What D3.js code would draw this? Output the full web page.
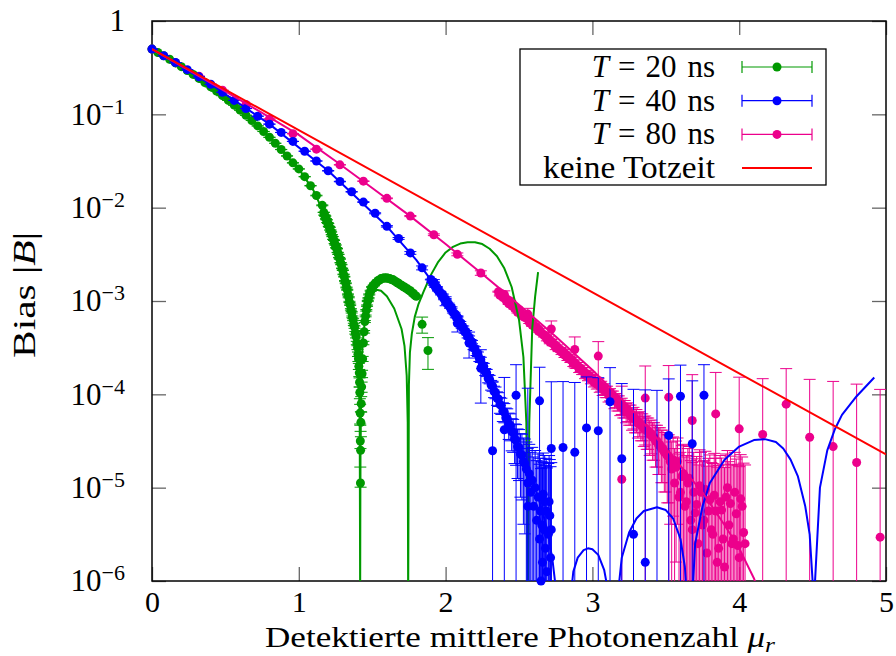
<!DOCTYPE html>
<html><head><meta charset="utf-8">
<script src="https://cdn.jsdelivr.net/npm/d3@7"></script>
<style>
body{margin:0;background:#fff}
svg{display:block}
text{font-family:"Liberation Serif","Times New Roman",serif;fill:#000}
</style></head>
<body><svg id="c" width="896" height="656"></svg>
<script>
// ---------- axis ticks ----------
const xTicks = [0,1,2,3,4,5];
const yTicks = [1e-6,1e-5,1e-4,1e-3,1e-2,1e-1,1];
const yTickExp = ["−6","−5","−4","−3","−2","−1",""];

// ---------- T = 20 ns (values are log10 |B|) ----------
const g20_mu  = [0,0.04,0.08,0.12,0.16,0.2,0.24,0.28,0.32,0.36,0.4,0.44,0.48,0.52,0.56,0.6,0.64,0.68,0.72,0.76,0.8,0.84,0.88,0.92,0.96,1.0,1.04,1.08,1.12,1.16,1.84,1.88];
const g20_log = [-0.301,-0.337,-0.373,-0.41,-0.449,-0.489,-0.53,-0.572,-0.615,-0.659,-0.705,-0.752,-0.8,-0.851,-0.902,-0.955,-1.01,-1.066,-1.124,-1.184,-1.246,-1.31,-1.377,-1.446,-1.52,-1.585,-1.668,-1.765,-1.87,-1.975,-3.25,-3.53];
const g20d_mu  = [1.17,1.175,1.18,1.185,1.19,1.195,1.2,1.205,1.21,1.215,1.22,1.225,1.23,1.235,1.24,1.245,1.25,1.255,1.26,1.265,1.27,1.275,1.28,1.285,1.29,1.295,1.3,1.305,1.31,1.315,1.32,1.325,1.33,1.335,1.34,1.345,1.35,1.355,1.36,1.365,1.37,1.375,1.38,1.385,1.39,1.395,1.4,1.403,1.406,1.409,1.412,1.414,1.416,1.418,1.419,1.42,1.421,1.423,1.425,1.428,1.431,1.435,1.44,1.445,1.45,1.455,1.46,1.465,1.47,1.475,1.48,1.49,1.5,1.51,1.52,1.53,1.54,1.55,1.56,1.57,1.58,1.59,1.6,1.61,1.62,1.63,1.64,1.65,1.66,1.67,1.68,1.69,1.7,1.71,1.72,1.73,1.74,1.75,1.76,1.77,1.78,1.79,1.8];
const g20d_log = [-2.05,-2.08,-2.09,-2.12,-2.13,-2.16,-2.17,-2.2,-2.21,-2.24,-2.26,-2.29,-2.31,-2.34,-2.35,-2.385,-2.4,-2.43,-2.44,-2.48,-2.5,-2.535,-2.55,-2.59,-2.61,-2.65,-2.67,-2.715,-2.74,-2.785,-2.81,-2.855,-2.88,-2.93,-2.96,-3.01,-3.04,-3.09,-3.12,-3.17,-3.2,-3.25,-3.28,-3.34,-3.38,-3.45,-3.5,-3.57,-3.62,-3.7,-3.77,-3.87,-3.98,-4.2,-4.5,-4.95,-4.6,-4.3,-4.1,-3.92,-3.78,-3.62,-3.45,-3.33,-3.22,-3.16,-3.1,-3.05,-3.0,-2.97,-2.93,-2.89,-2.85,-2.835,-2.81,-2.8,-2.78,-2.775,-2.76,-2.76,-2.75,-2.755,-2.75,-2.76,-2.76,-2.77,-2.77,-2.785,-2.79,-2.805,-2.81,-2.825,-2.83,-2.845,-2.85,-2.865,-2.87,-2.885,-2.89,-2.91,-2.92,-2.94,-2.95];
const g20f_mu  = [0,0.2,0.4,0.6,0.8,1.0,1.1,1.2,1.25,1.3,1.35,1.38,1.4,1.41,1.415,1.418,1.42,1.425,1.43,1.44,1.46,1.48,1.5,1.53,1.56,1.6,1.65,1.7,1.72,1.735,1.742,1.745,1.75,1.757,1.77,1.79,1.814,1.85,1.9,1.95,2.0,2.05,2.1,2.15,2.2,2.25,2.3,2.35,2.4,2.45,2.5,2.53,2.55,2.56,2.57,2.59,2.61,2.63];
const g20f_log = [-0.301,-0.489,-0.705,-0.955,-1.246,-1.585,-1.815,-2.16,-2.39,-2.66,-3.02,-3.3,-3.6,-3.9,-4.3,-6.2,-4.5,-3.9,-3.6,-3.35,-3.1,-2.98,-2.92,-2.88,-2.89,-2.95,-3.08,-3.3,-3.48,-3.8,-4.3,-6.2,-3.9,-3.55,-3.35,-3.17,-3.04,-2.9,-2.72,-2.58,-2.48,-2.42,-2.385,-2.37,-2.37,-2.39,-2.44,-2.52,-2.65,-2.85,-3.2,-3.6,-4.3,-6.2,-4.3,-3.3,-2.95,-2.69];

// ---------- T = 40 ns ----------
const b40_mu  = [0,0.08,0.16,0.24,0.32,0.4,0.48,0.56,0.64,0.72,0.8,0.88,0.96,1.04,1.12,1.2,1.28,1.36,1.44,1.52,1.6,1.68,1.76,1.84,1.92,2.0,2.08,2.16,2.24,2.32,2.4,2.48,2.56,2.64,2.72,2.8,2.88,2.96,3.04,3.12,3.2,3.28,3.36,3.44,3.52,3.6,3.68,3.76];
const b40_log = [-0.301,-0.372,-0.445,-0.521,-0.598,-0.678,-0.763,-0.851,-0.938,-1.02,-1.105,-1.194,-1.29,-1.395,-1.5,-1.605,-1.72,-1.83,-1.94,-2.06,-2.2,-2.33,-2.485,-2.645,-2.8,-3.0,-3.24,-3.45,-3.72,-4.605,-4.38,-4.01,-5.2,-4.07,-4.58,-4.57,-4.62,-4.36,-4.39,-4.08,-4.69,-5.5,-5.8,-6.5,-4.44,-4.02,-4.53,-4.01];
const b40d_mu  = [1.9,1.91,1.92,1.93,1.94,1.95,1.96,1.97,1.98,1.99,2.0,2.01,2.02,2.03,2.04,2.05,2.06,2.07,2.08,2.09,2.1,2.11,2.12,2.13,2.14,2.15,2.16,2.17,2.18,2.19,2.2,2.21,2.22,2.23,2.24,2.25,2.26,2.27,2.28,2.29,2.3,2.31,2.32,2.33,2.34,2.35,2.36,2.37,2.38,2.39,2.4,2.41,2.42,2.43,2.44,2.45,2.46,2.47,2.48,2.49,2.5,2.51,2.52,2.53,2.54,2.55,2.56,2.57,2.58,2.59,2.6,2.61,2.62,2.63,2.64,2.645,2.65,2.655,2.66,2.665,2.67,2.675,2.68,2.685,2.69,2.7,2.705,2.71,2.715,2.72];
const b40d_log = [-2.77,-2.8,-2.8,-2.85,-2.85,-2.89,-2.9,-2.93,-2.93,-2.98,-2.98,-3.03,-3.03,-3.07,-3.07,-3.12,-3.13,-3.17,-3.17,-3.22,-3.23,-3.28,-3.28,-3.33,-3.33,-3.38,-3.39,-3.43,-3.44,-3.5,-3.51,-3.56,-3.57,-3.62,-3.63,-3.69,-3.7,-3.76,-3.77,-3.83,-3.84,-3.9,-3.91,-3.97,-3.98,-4.04,-4.05,-4.11,-4.12,-4.18,-4.19,-4.25,-4.26,-4.32,-4.33,-4.4,-4.41,-4.48,-4.49,-4.56,-4.57,-4.64,-4.65,-4.72,-4.74,-4.8,-4.95,-4.85,-5.05,-4.92,-5.2,-5.0,-5.35,-5.1,-5.55,-5.25,-6.0,-5.4,-5.8,-5.07,-5.45,-5.15,-5.65,-5.25,-5.9,-5.5,-5.15,-5.3,-5.75,-5.45];
const b40f_mu  = [0,0.4,0.8,1.2,1.6,1.8,2.0,2.2,2.4,2.5,2.6,2.65,2.7,2.73,2.76,2.85,2.87,2.9,2.94,2.97,3.0,3.04,3.08,3.1,3.17,3.2,3.25,3.3,3.35,3.44,3.5,3.55,3.6,3.63,3.645,3.68,3.7,3.75,3.8,3.9,4.0,4.1,4.175,4.25,4.3,4.35,4.4,4.45,4.48,4.5,4.51,4.52,4.55,4.6,4.65,4.7,4.8,4.92];
const b40f_log = [-0.301,-0.678,-1.105,-1.605,-2.2,-2.56,-2.99,-3.51,-4.2,-4.55,-4.95,-5.2,-5.5,-5.8,-6.2,-6.2,-5.9,-5.75,-5.67,-5.65,-5.66,-5.72,-5.88,-6.05,-6.2,-5.75,-5.48,-5.33,-5.25,-5.21,-5.24,-5.33,-5.55,-5.85,-6.2,-6.2,-5.6,-5.2,-4.95,-4.7,-4.56,-4.49,-4.48,-4.51,-4.58,-4.7,-4.88,-5.2,-5.5,-6.0,-6.2,-5.9,-5.0,-4.6,-4.38,-4.22,-4.02,-3.82];

// ---------- T = 80 ns ----------
const p80_mu  = [0,0.16,0.32,0.48,0.64,0.8,0.96,1.12,1.28,1.44,1.6,1.76,1.92,2.08,2.24,2.4,2.56,2.72,2.88,3.04,3.2,3.36,3.52,3.68,3.84,4.0,4.16,4.32,4.48,4.64,4.8,4.96];
const p80_log = [-0.301,-0.446,-0.592,-0.742,-0.895,-1.05,-1.208,-1.373,-1.541,-1.716,-1.9,-2.09,-2.29,-2.5,-2.7,-2.93,-3.14,-3.3,-3.52,-3.59,-4.91,-4.04,-4.03,-4.28,-4.21,-4.37,-4.43,-4.105,-4.46,-4.56,-4.73,-5.53];
const p80d_mu  = [2.36,2.37,2.38,2.39,2.4,2.41,2.42,2.43,2.44,2.45,2.46,2.47,2.48,2.49,2.5,2.51,2.52,2.53,2.54,2.55,2.56,2.57,2.58,2.59,2.6,2.61,2.62,2.63,2.64,2.65,2.66,2.67,2.68,2.69,2.7,2.71,2.72,2.73,2.74,2.75,2.76,2.77,2.78,2.79,2.8,2.81,2.82,2.83,2.84,2.85,2.86,2.87,2.88,2.89,2.9,2.91,2.92,2.93,2.94,2.95,2.96,2.97,2.98,2.99,3.0,3.01,3.02,3.03,3.04,3.05,3.06,3.07,3.08,3.09,3.1,3.11,3.12,3.13,3.14,3.15,3.16,3.17,3.18,3.19,3.2,3.21,3.22,3.23,3.24,3.25,3.26,3.27,3.28,3.29,3.3,3.31,3.32,3.33,3.34,3.35,3.36,3.37,3.38,3.39,3.4,3.41,3.42,3.43,3.44,3.45,3.46,3.47,3.48,3.49,3.5,3.51,3.52,3.53,3.54,3.55,3.56,3.57,3.58,3.59,3.6,3.61,3.62,3.63,3.64,3.65,3.66,3.67,3.68,3.69,3.7,3.71,3.72,3.73,3.74,3.75,3.76,3.77,3.78,3.79,3.8,3.81,3.82,3.83,3.84,3.85,3.86,3.87,3.88,3.89,3.9,3.91,3.92,3.93,3.94,3.95,3.96,3.97,3.98,3.99,4.0,4.01,4.02,4.03,4.04];
const p80d_log = [-2.9,-2.94,-2.92,-2.96,-2.96,-2.99,-2.99,-3.03,-3.0,-3.05,-3.05,-3.08,-3.08,-3.12,-3.09,-3.14,-3.14,-3.17,-3.17,-3.18,-3.19,-3.23,-3.22,-3.26,-3.25,-3.28,-3.28,-3.32,-3.31,-3.34,-3.35,-3.37,-3.37,-3.41,-3.4,-3.44,-3.43,-3.46,-3.46,-3.5,-3.49,-3.52,-3.52,-3.55,-3.54,-3.58,-3.57,-3.61,-3.6,-3.63,-3.63,-3.67,-3.66,-3.69,-3.69,-3.73,-3.72,-3.75,-3.75,-3.79,-3.78,-3.81,-3.8,-3.84,-3.83,-3.87,-3.86,-3.89,-3.88,-3.92,-3.91,-3.95,-3.94,-3.97,-3.97,-4.01,-4.0,-4.03,-4.03,-4.07,-4.06,-4.09,-4.09,-4.13,-4.12,-4.15,-4.15,-4.19,-4.18,-4.21,-4.21,-4.25,-4.24,-4.27,-4.27,-4.31,-4.3,-4.33,-4.33,-4.37,-4.36,-4.39,-4.39,-4.43,-4.42,-4.46,-4.46,-4.5,-4.5,-4.54,-4.54,-4.58,-4.58,-4.62,-4.62,-4.66,-4.66,-4.72,-4.8,-4.7,-4.95,-4.78,-4.72,-5.1,-5.05,-4.88,-4.85,-5.2,-5.15,-4.95,-4.9,-5.35,-5.45,-5.05,-5.27,-5.18,-5.6,-4.98,-5.05,-5.4,-5.35,-5.02,-5.7,-5.25,-5.13,-5.45,-5.5,-5.08,-5.25,-5.8,-5.65,-5.15,-5.24,-5.55,-5.85,-5.1,-5.0,-5.4,-5.17,-5.6,-5.55,-5.05,-5.28,-5.62,-5.75,-5.12,-5.2,-5.48,-5.6];
const p80f_mu  = [0,0.25,0.5,0.75,1.0,1.25,1.5,1.75,2.0,2.25,2.5,2.75,3.0,3.25,3.5,3.75,3.9,4.0,4.1,4.13];
const p80f_log = [-0.301,-0.527,-0.755,-0.985,-1.22,-1.5,-1.79,-2.08,-2.39,-2.71,-3.04,-3.38,-3.74,-4.13,-4.58,-5.05,-5.4,-5.65,-5.97,-6.1];

// ---------- keine Totzeit ----------
const ref_mu  = [0,5];
const ref_log = [-0.301,-4.644];

// error bars (absolute sigma of |B|)
const sigmaSparse = 1.1e-4;
const sigmaDense  = 1.5e-5;

const COL = {g:"#009900", b:"#0000ff", p:"#ec008c", r:"#ff0000"};

// ---------- setup ----------
const svg = d3.select("#c");
const x = d3.scaleLinear().domain([0,5]).range([152,886]);
const y = d3.scaleLog().domain([1e-6,1]).range([581,21]);
const FS = 30;

svg.append("defs").append("clipPath").attr("id","plotclip")
  .append("rect").attr("x",152).attr("y",21).attr("width",734).attr("height",560);

function styleTicks(g){
  g.select(".domain").remove();
  g.selectAll(".tick line").attr("stroke","#666").attr("stroke-width",1.3);
}
const gx = svg.append("g").attr("transform","translate(0,581)")
  .call(d3.axisBottom(x).tickValues(xTicks).tickSize(-14).tickPadding(10).tickFormat(d3.format("d")));
styleTicks(gx);
gx.selectAll("text").attr("font-size",FS).attr("font-family","Liberation Serif").attr("fill","#000");
const gxt = svg.append("g").attr("transform","translate(0,21)")
  .call(d3.axisTop(x).tickValues(xTicks).tickSize(-14).tickFormat(""));
styleTicks(gxt);

const gy = svg.append("g").attr("transform","translate(152,0)")
  .call(d3.axisLeft(y).tickValues(yTicks).tickSize(-14).tickPadding(27).tickFormat(""));
styleTicks(gy);
gy.selectAll(".tick text").each(function(d,i){
  const t = d3.select(this).attr("font-size",FS+1).attr("font-family","Liberation Serif").attr("fill","#000");
  if (d===1){ t.text("1"); }
  else {
    t.append("tspan").text("10");
    t.append("tspan").attr("dy",-11).attr("font-size",22).text(yTickExp[i]);
  }
});
const gyr = svg.append("g").attr("transform","translate(886,0)")
  .call(d3.axisRight(y).tickValues(yTicks).tickSize(-14).tickFormat(""));
styleTicks(gyr);

svg.append("rect").attr("x",152).attr("y",21).attr("width",734).attr("height",560)
  .attr("fill","none").attr("stroke","#000").attr("stroke-width",1.5);

// ---------- data ----------
function pts(mu, lg, sigma){ return mu.map((m,i)=>({m, v:Math.pow(10,lg[i]), s:sigma})); }
function drawData(data, color){
  const g = svg.append("g");
  const eb = g.append("g").attr("clip-path","url(#plotclip)").attr("stroke",color).attr("stroke-width",1);
  data.forEach(d=>{
    const px = x(d.m);
    const hi = d.v + d.s, lo = d.v - d.s;
    const yt = y(Math.min(hi,1));
    const loClip = lo <= 1e-6;
    const yb = loClip ? y(1e-6) : y(lo);
    eb.append("line").attr("x1",px).attr("x2",px).attr("y1",yt).attr("y2",yb);
    if (hi < 1) eb.append("line").attr("x1",px-6).attr("x2",px+6).attr("y1",yt).attr("y2",yt);
    if (!loClip) eb.append("line").attr("x1",px-6).attr("x2",px+6).attr("y1",yb).attr("y2",yb);
  });
  g.append("g").selectAll("circle").data(data.filter(d=>d.v>=0.95e-6)).join("circle")
    .attr("cx",d=>x(d.m)).attr("cy",d=>y(d.v)).attr("r",4.5).attr("fill",color);
}
const line = d3.line().x(d=>x(d[0])).y(d=>y(Math.pow(10,d[1])));
function drawCurve(mu, lg, color, w){
  svg.append("path").attr("clip-path","url(#plotclip)")
    .attr("d", line(mu.map((m,i)=>[m,lg[i]])))
    .attr("fill","none").attr("stroke",color).attr("stroke-width",w).attr("stroke-linejoin","round");
}

drawData(pts(p80d_mu,p80d_log,sigmaDense).concat(pts(p80_mu,p80_log,sigmaSparse)), COL.p);
drawData(pts(g20d_mu,g20d_log,sigmaDense).concat(pts(g20_mu,g20_log,sigmaSparse)), COL.g);
drawCurve(g20f_mu,g20f_log,COL.g,2);
drawData(pts(b40d_mu,b40d_log,sigmaDense).concat(pts(b40_mu,b40_log,sigmaSparse)), COL.b);
drawCurve(b40f_mu,b40f_log,COL.b,2);
drawCurve(p80f_mu,p80f_log,COL.p,2);
drawCurve(ref_mu,ref_log,COL.r,2);

// ---------- legend ----------
const leg = svg.append("g");
leg.append("rect").attr("x",520).attr("y",49).attr("width",306).attr("height",136)
  .attr("fill","#fff").attr("stroke","#000").attr("stroke-width",1.3);
const legT = ["20","40","80"], legC = [COL.g, COL.b, COL.p];
legT.forEach((T,i)=>{
  const cy = 67 + i*33.7;
  const t = leg.append("text").attr("x",715).attr("y",cy+10).attr("text-anchor","end").attr("font-size",FS+1);
  t.append("tspan").attr("font-style","italic").text("T");
  t.append("tspan").attr("dx",9).text("=");
  t.append("tspan").attr("dx",10).text(T);
  t.append("tspan").attr("dx",11).text("ns");
  const g = leg.append("g").attr("stroke",legC[i]).attr("stroke-width",1.2);
  g.append("line").attr("x1",742).attr("x2",812).attr("y1",cy).attr("y2",cy);
  g.append("line").attr("x1",742).attr("x2",742).attr("y1",cy-6).attr("y2",cy+6);
  g.append("line").attr("x1",812).attr("x2",812).attr("y1",cy-6).attr("y2",cy+6);
  leg.append("circle").attr("cx",777).attr("cy",cy).attr("r",4.5).attr("fill",legC[i]);
});
{
  const cy = 67 + 3*33.7;
  leg.append("text").attr("x",715).attr("y",cy+10).attr("text-anchor","end").attr("font-size",FS+1)
    .attr("textLength",172).attr("lengthAdjust","spacingAndGlyphs").text("keine Totzeit");
  leg.append("line").attr("x1",742).attr("x2",812).attr("y1",cy).attr("y2",cy).attr("stroke",COL.r).attr("stroke-width",2);
}

// ---------- axis titles ----------
const xl = svg.append("text").attr("x",520).attr("y",647).attr("text-anchor","middle").attr("font-size",29)
  .attr("textLength",510).attr("lengthAdjust","spacingAndGlyphs");
xl.append("tspan").text("Detektierte mittlere Photonenzahl ");
xl.append("tspan").attr("font-style","italic").text("μ");
xl.append("tspan").attr("font-style","italic").attr("font-size",21).attr("dy",5).text("r");

const yl = svg.append("text").attr("transform","translate(35,295) rotate(-90)").attr("text-anchor","middle").attr("font-size",FS+1)
  .attr("textLength",126).attr("lengthAdjust","spacingAndGlyphs");
yl.append("tspan").text("Bias |");
yl.append("tspan").attr("font-style","italic").text("B");
yl.append("tspan").text("|");
</script>
</body></html>
